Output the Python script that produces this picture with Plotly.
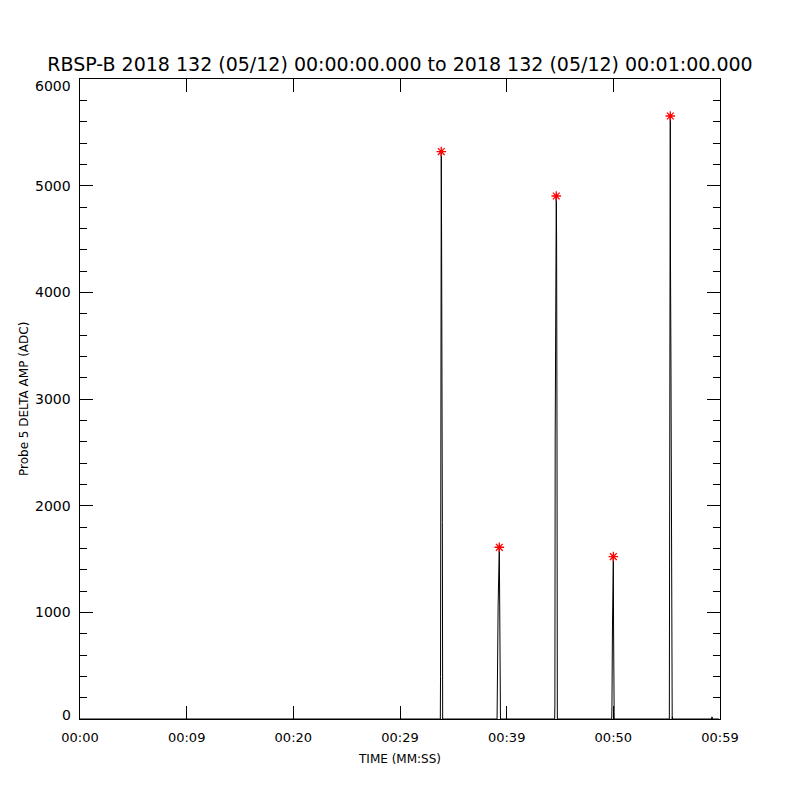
import plotly.graph_objects as go

# time in seconds from 00:00:00, amplitude in ADC counts
time_s = [0.0, 33.78, 33.80, 33.87, 33.90, 33.97, 34.00,
          39.10, 39.12, 39.20, 39.31, 39.33, 39.40, 39.42,
          44.50, 44.52, 44.55, 44.62, 44.65, 44.68, 44.72, 44.75,
          49.85, 49.87, 49.92, 50.00, 50.02, 50.06, 50.08,
          55.25, 55.30, 55.32, 55.34, 55.36, 55.40, 55.45, 55.52, 55.54, 55.56,
          59.20, 59.25, 59.30, 59.90]
amp = [0, 0, 400, 5320, 4490, 1840, 0,
       0, 262, 1070, 1610, 1070, 187, 0,
       0, 130, 2644, 4537, 4903, 4537, 2644, 0,
       0, 115, 881, 1522, 881, 366, 0,
       0, 3394, 4256, 5653, 4256, 3394, 0, 0, 20, 0,
       0, 20, 0, 0]

peak_t = [33.87, 39.31, 44.65, 50.00, 55.34]
peak_amp = [5320, 1610, 4903, 1522, 5653]

x_tick_vals = [0, 10, 20, 30, 40, 50, 60]
x_tick_text = ["00:00", "00:09", "00:20", "00:29", "00:39", "00:50", "00:59"]
y_tick_vals = [0, 1000, 2000, 3000, 4000, 5000, 6000]

FONT = "DejaVu Sans"

fig = go.Figure()
fig.add_trace(go.Scatter(
    x=time_s, y=amp, mode="lines",
    line=dict(color="black", width=1),
    hoverinfo="skip", showlegend=False,
))
fig.add_trace(go.Scatter(
    x=peak_t, y=peak_amp, mode="markers",
    marker=dict(symbol="asterisk-open", size=8, color="red",
                line=dict(color="red", width=1.3)),
    showlegend=False,
))

# y tick labels: IDL pulls the end labels inside the axis range
annots = []
for v in y_tick_vals:
    shift = 4 if v == y_tick_vals[0] else (-7 if v == y_tick_vals[-1] else 0)
    annots.append(dict(x=0, xref="paper", y=v, yref="y", text=str(v),
                       xanchor="right", yanchor="middle", xshift=-7, yshift=shift,
                       showarrow=False, font=dict(family=FONT, size=14, color="black")))
annots.append(dict(x=0, xref="paper", xshift=-56, y=0.5, yref="paper",
                   text="Probe 5 DELTA AMP (ADC)", textangle=-90,
                   xanchor="center", yanchor="middle", showarrow=False,
                   font=dict(family=FONT, size=12, color="black")))

axis_common = dict(
    showgrid=False, zeroline=False, showline=True, linecolor="black", linewidth=1,
    mirror="ticks", ticks="inside", tickcolor="black", ticklen=13, tickwidth=1,
)

fig.update_layout(
    width=800, height=800,
    paper_bgcolor="white", plot_bgcolor="white",
    margin=dict(l=72, r=88, t=71, b=89),
    title=dict(text="RBSP-B 2018 132 (05/12) 00:00:00.000 to 2018 132 (05/12) 00:01:00.000",
               x=392 / 800, xanchor="center", y=1 - 56 / 800, yanchor="middle",
               font=dict(family=FONT, size=19, color="black")),
    xaxis=dict(range=[0, 60], tickvals=x_tick_vals, ticktext=x_tick_text,
               tickfont=dict(family=FONT, size=13, color="black"), ticklabelstandoff=6,
               title=dict(text="TIME (MM:SS)", font=dict(family=FONT, size=12, color="black"),
                          standoff=11),
               **axis_common),
    yaxis=dict(range=[0, 6000], tickvals=y_tick_vals, showticklabels=False,
               minor=dict(dtick=200, ticks="inside", ticklen=7, tickcolor="black"),
               **axis_common),
    annotations=annots,
)

fig.write_html("out.html")
